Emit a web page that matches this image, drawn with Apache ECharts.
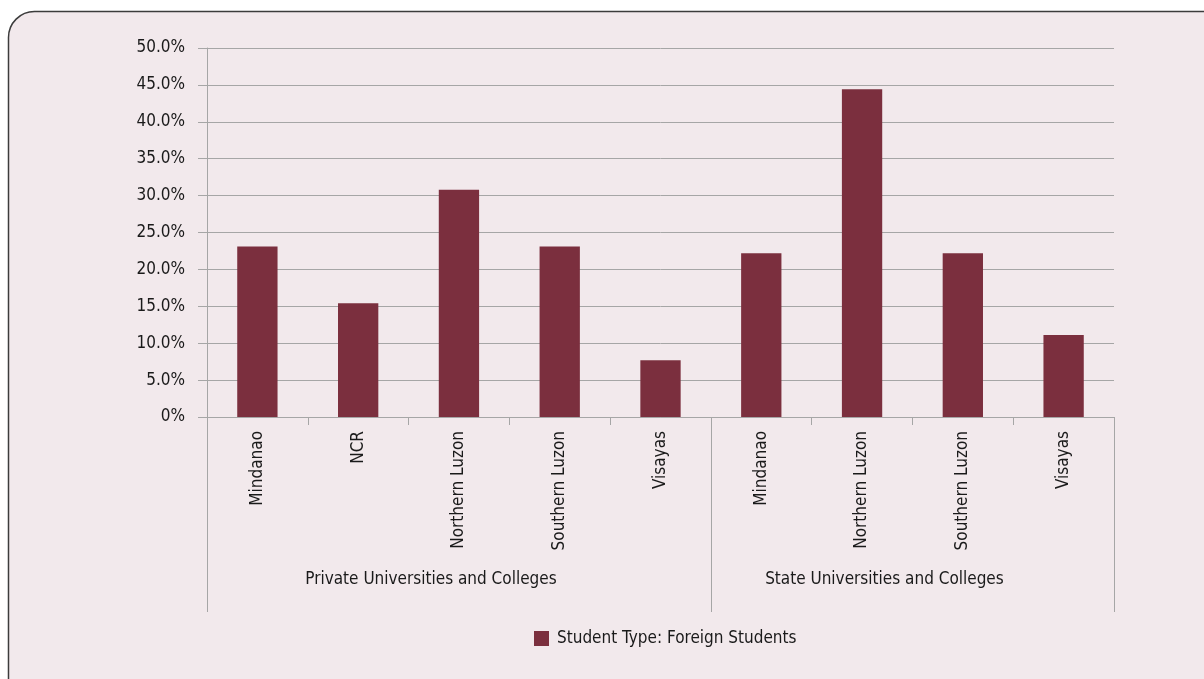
<!DOCTYPE html>
<html>
<head>
<meta charset="utf-8">
<script src="https://cdn.jsdelivr.net/npm/echarts@6/dist/echarts.min.js"></script>
<style>
  html, body { margin: 0; padding: 0; background: #ffffff; }
  #chart { width: 1204px; height: 679px; }
</style>
</head>
<body>
<div id="chart"></div>
<script>
// Share of foreign students by region, grouped by institution type (percent)
const categories = ['Mindanao', 'NCR', 'Northern Luzon', 'Southern Luzon', 'Visayas',
                    'Mindanao', 'Northern Luzon', 'Southern Luzon', 'Visayas'];
const groups = ['Private Universities and Colleges', 'State Universities and Colleges'];
const groupSizes = [5, 4];
const foreignShare = [23.1, 15.4, 30.8, 23.1, 7.7, 22.2, 44.4, 22.2, 11.1];
const seriesName = 'Student Type: Foreign Students';

const FONT = "'Liberation Sans Narrow', 'DejaVu Sans Condensed', 'Roboto Condensed', sans-serif";
const FS = 17;
const GRID = { left: 207, right: 90, top: 48, bottom: 262 };
const AXIS_GRAY = '#a6a6a6';
const BAR = '#7b2f3e';
const TEXT = '#1a1a1a';

const chart = echarts.init(document.getElementById('chart'), null, { renderer: 'canvas' });

chart.setOption({
  backgroundColor: '#ffffff',
  textStyle: { fontFamily: FONT },
  animation: false,
  grid: GRID,
  legend: {
    left: 534, top: 630, padding: 0,
    itemWidth: 15, itemHeight: 15, itemGap: 10,
    icon: 'rect',
    textStyle: { fontFamily: FONT, fontSize: FS, color: TEXT, padding: [0, 0, 0, 3] },
    data: [seriesName]
  },
  xAxis: {
    type: 'category',
    data: categories,
    axisLine: { lineStyle: { color: AXIS_GRAY, width: 1 } },
    axisTick: { show: true, length: 8, lineStyle: { color: AXIS_GRAY } },
    axisLabel: {
      rotate: 90, margin: 14, interval: 0,
      fontFamily: FONT, fontSize: FS, color: TEXT
    }
  },
  yAxis: {
    type: 'value',
    min: 0, max: 50, interval: 5,
    axisLine: { show: true, lineStyle: { color: AXIS_GRAY, width: 1 } },
    axisTick: { show: true, length: 9, lineStyle: { color: AXIS_GRAY } },
    splitLine: { lineStyle: { color: AXIS_GRAY, width: 1 } },
    axisLabel: {
      margin: 22, fontFamily: FONT, fontSize: FS, color: TEXT,
      formatter: v => v === 0 ? '0%' : v.toFixed(1) + '%'
    }
  },
  series: [{
    name: seriesName,
    type: 'bar',
    data: foreignShare,
    barWidth: '40%',
    itemStyle: { color: BAR }
  }]
});

// Frame, group dividers and group labels, placed from the axis scale
function drawFrame() {
  const px = i => chart.convertToPixel({ xAxisIndex: 0 }, i);
  const step = px(1) - px(0);
  const boundary = i => px(0) - step / 2 + i * step;
  const y0 = chart.convertToPixel({ yAxisIndex: 0 }, 0);
  const lineBottom = 612;
  const elements = [{
    type: 'rect', z: -10, silent: true,
    shape: { x: 8.5, y: 11.5, width: 1260, height: 720, r: 26 },
    style: { fill: '#f2e9ec', stroke: '#3c3c3c', lineWidth: 1.5 }
  }];
  let start = 0;
  const edges = [0];
  groups.forEach((g, k) => {
    const end = start + groupSizes[k];
    edges.push(end);
    const cx = (boundary(start) + boundary(end)) / 2 - 28;
    elements.push({
      type: 'text', silent: true,
      style: {
        text: g, x: cx, y: 580, align: 'center', verticalAlign: 'middle',
        font: FS + 'px ' + FONT, fill: TEXT
      }
    });
    start = end;
  });
  edges.forEach(e => {
    const x = Math.round(boundary(e)) + 0.5;
    elements.push({
      type: 'line', silent: true,
      shape: { x1: x, y1: y0, x2: x, y2: lineBottom },
      style: { stroke: AXIS_GRAY, lineWidth: 1 }
    });
  });
  chart.setOption({ graphic: { elements } });
}
drawFrame();
</script>
</body>
</html>
